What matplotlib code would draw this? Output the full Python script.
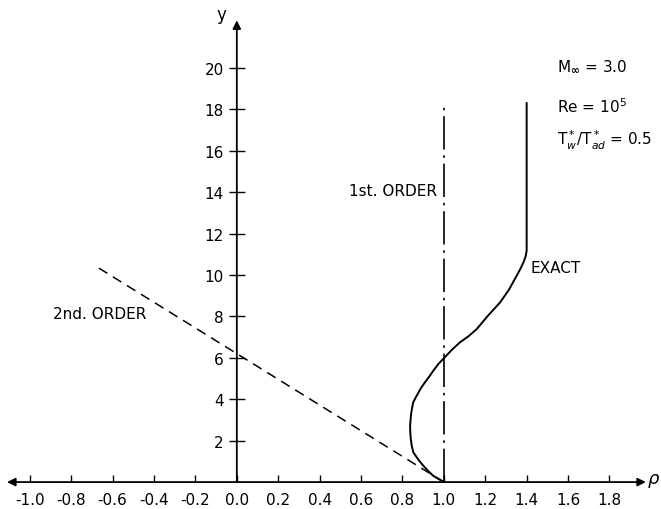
import numpy as np
import matplotlib.pyplot as plt

# ---- data ----
x_ticks = [-1.0, -0.8, -0.6, -0.4, -0.2, 0.0, 0.2, 0.4, 0.6, 0.8, 1.0, 1.2, 1.4, 1.6, 1.8]
y_ticks = [2, 4, 6, 8, 10, 12, 14, 16, 18, 20]

# exact solution
exact_rho = [1.0, 0.975, 0.949, 0.925, 0.901, 0.877, 0.853, 0.845, 0.840, 0.838, 0.837,
             0.839, 0.842, 0.846, 0.852, 0.865, 0.89, 0.909, 0.93, 0.952, 0.975,
             1.0, 1.04, 1.078, 1.12, 1.159, 1.21, 1.272, 1.315, 1.352, 1.37,
             1.384, 1.395, 1.40, 1.40]
exact_y = [0.0, 0.15, 0.30, 0.53, 0.79, 1.08, 1.43, 1.75, 2.1, 2.4, 2.7,
           3.0, 3.3, 3.55, 3.85, 4.1, 4.55, 4.82, 5.1, 5.42, 5.72,
           5.98, 6.4, 6.75, 7.05, 7.39, 8.0, 8.68, 9.3, 9.97, 10.3,
           10.6, 10.9, 11.17, 18.3]

# first order (vertical) and second order (straight line)
first_rho = [1.0, 1.0]
first_y = [0.0, 18.3]
second_rho = [1.0, -0.685]
second_y = [0.0, 10.45]

plt.rcParams['font.family'] = 'DejaVu Sans'

fig = plt.figure(figsize=(6.61, 5.10), dpi=100)
ax = fig.add_axes([0, 0, 1, 1])
ax.set_xlim(-1.144, 2.049)
ax.set_ylim(-1.30, 23.33)

for s in ['top', 'right']:
    ax.spines[s].set_visible(False)
ax.spines['left'].set_position(('data', 0))
ax.spines['bottom'].set_position(('data', 0))
ax.spines['left'].set_visible(False)
ax.spines['bottom'].set_visible(False)

# axis lines with arrowheads
ax.annotate('', xy=(1.976, 0), xytext=(-1.11, 0),
            arrowprops=dict(arrowstyle='<|-|>', color='black', lw=1.3,
                            mutation_scale=12, shrinkA=0, shrinkB=0))
ax.annotate('', xy=(0, 22.3), xytext=(0, 0),
            arrowprops=dict(arrowstyle='-|>', color='black', lw=1.3,
                            mutation_scale=12, shrinkA=0, shrinkB=0))

ax.set_xticks(x_ticks)
ax.set_xticklabels(['%.1f' % v for v in x_ticks])
ax.set_yticks(y_ticks)
ax.set_yticklabels([str(v) for v in y_ticks])
ax.tick_params(axis='x', direction='in', length=5, width=1, pad=7.5, labelsize=11)
ax.tick_params(axis='y', direction='inout', length=11, width=1, pad=4, labelsize=11)

# curves
ax.plot(exact_rho, exact_y, color='black', lw=1.4, solid_joinstyle='round')
ax.plot(first_rho, first_y, color='black', lw=1.2, dashes=(20, 3.5, 1.5, 3.5))
ax.plot(second_rho, second_y, color='black', lw=1.1, dashes=(6.5, 4.3))

# labels
ax.text(-0.073, 22.6, 'y', fontsize=12, ha='center', va='center')
ax.text(1.98, 0.1, r'$\rho$', fontsize=13, ha='left', va='center')
ax.text(0.967, 14.1, '1st. ORDER', fontsize=11, ha='right', va='center')
ax.text(1.417, 10.37, 'EXACT', fontsize=11, ha='left', va='center')
ax.text(-0.886, 8.12, '2nd. ORDER', fontsize=11, ha='left', va='center')

ax.text(1.547, 20.12, r'M$_{\mathbf{\infty}}$ = 3.0', fontsize=11, ha='left', va='center')
ax.text(1.547, 18.18, r'Re = 10$^5$', fontsize=11, ha='left', va='center')
ax.text(1.547, 16.57, r'T$_w^*$/T$_{ad}^*$ = 0.5', fontsize=11, ha='left', va='center')

fig.savefig('out.png', dpi=100)
